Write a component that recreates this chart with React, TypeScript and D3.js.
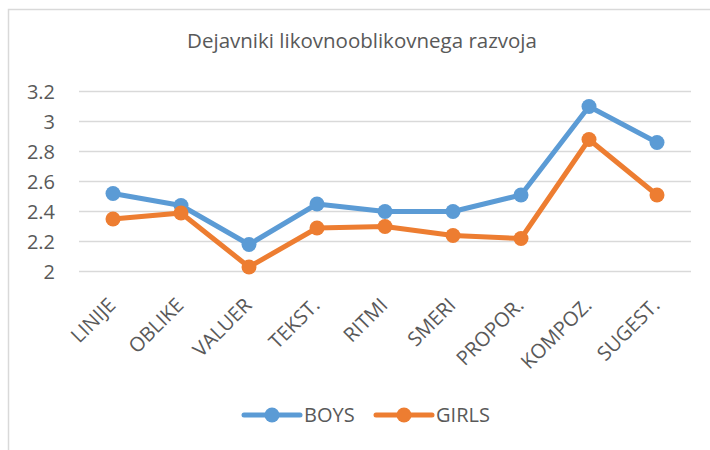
import React, { useEffect, useRef } from 'react';
import * as d3 from 'd3';

const title = 'Dejavniki likovnooblikovnega razvoja';
const categories = ['LINIJE', 'OBLIKE', 'VALUER', 'TEKST.', 'RITMI', 'SMERI', 'PROPOR.', 'KOMPOZ.', 'SUGEST.'];
const boys = [2.52, 2.44, 2.18, 2.45, 2.40, 2.40, 2.51, 3.10, 2.86];
const girls = [2.35, 2.39, 2.03, 2.29, 2.30, 2.24, 2.22, 2.88, 2.51];
const yTicks = [2, 2.2, 2.4, 2.6, 2.8, 3, 3.2];
const seriesNames = ['BOYS', 'GIRLS'];
const colors = ['#5b9bd5', '#ed7d31'];

function App() {
  const svgRef = useRef<SVGSVGElement>(null);

  useEffect(() => {
    const width = 710;
    const height = 450;
    const plot = { left: 79, right: 691, top: 91.5, bottom: 271.5 };
    const font = '"Open Sans", "Noto Sans", sans-serif';

    const svg = d3.select(svgRef.current);
    svg.selectAll('*').remove();
    svg.attr('width', width).attr('height', height);

    // chart frame (only left and top edges visible)
    svg.append('rect').attr('x', 0).attr('y', 0).attr('width', width).attr('height', height).attr('fill', '#fff');
    svg.append('path')
      .attr('d', `M8.5,${height} V9.5 H${width}`)
      .attr('fill', 'none')
      .attr('stroke', '#d9d9d9')
      .attr('stroke-width', 1.5);

    svg.append('text')
      .attr('x', 362)
      .attr('y', 48)
      .attr('text-anchor', 'middle')
      .attr('font-family', font)
      .attr('font-size', 20.5)
      .attr('fill', '#595959')
      .text(title);

    const x = d3.scaleBand().domain(categories).range([plot.left, plot.right]);
    const y = d3.scaleLinear().domain([2, 3.2]).range([plot.bottom, plot.top]);
    const cx = (c: string) => (x(c) as number) + x.bandwidth() / 2;

    // gridlines
    svg.append('g')
      .selectAll('line')
      .data(yTicks)
      .enter().append('line')
      .attr('x1', plot.left)
      .attr('x2', plot.right)
      .attr('y1', d => y(d))
      .attr('y2', d => y(d))
      .attr('stroke', '#d9d9d9')
      .attr('stroke-width', 1.5);

    // y labels
    svg.append('g')
      .selectAll('text')
      .data(yTicks)
      .enter().append('text')
      .attr('x', 55)
      .attr('y', d => y(d))
      .attr('dy', '0.35em')
      .attr('text-anchor', 'end')
      .attr('font-family', font)
      .attr('font-size', 20)
      .attr('fill', '#595959')
      .text(d => String(d));

    // x labels
    svg.append('g')
      .selectAll('text')
      .data(categories)
      .enter().append('text')
      .attr('transform', d => `translate(${cx(d) - 1},${plot.bottom + 30}) rotate(-45)`)
      .attr('text-anchor', 'end')
      .attr('dy', '0.35em')
      .attr('font-family', font)
      .attr('font-size', 20)
      .attr('fill', '#595959')
      .text(d => d);

    const line = d3.line<number>()
      .x((d, i) => cx(categories[i]))
      .y(d => y(d));

    [boys, girls].forEach((vals, k) => {
      const g = svg.append('g');
      g.append('path')
        .attr('d', line(vals))
        .attr('fill', 'none')
        .attr('stroke', colors[k])
        .attr('stroke-width', 5)
        .attr('stroke-linejoin', 'round')
        .attr('stroke-linecap', 'round');
      g.selectAll('circle')
        .data(vals)
        .enter().append('circle')
        .attr('cx', (d, i) => cx(categories[i]))
        .attr('cy', d => y(d))
        .attr('r', 7.5)
        .attr('fill', colors[k]);
    });

    // legend
    const legendX = [244, 376];
    seriesNames.forEach((name, k) => {
      const g = svg.append('g').attr('transform', `translate(${legendX[k]},415)`);
      g.append('line')
        .attr('x1', 0).attr('x2', 56)
        .attr('y1', 0).attr('y2', 0)
        .attr('stroke', colors[k])
        .attr('stroke-width', 5)
        .attr('stroke-linecap', 'round');
      g.append('circle').attr('cx', 28).attr('cy', 0).attr('r', 7.5).attr('fill', colors[k]);
      g.append('text')
        .attr('x', 60)
        .attr('y', 0)
        .attr('dy', '0.35em')
        .attr('font-family', font)
        .attr('font-size', 20)
        .attr('fill', '#595959')
        .text(name);
    });
  }, []);

  return (
    <div style={{ position: 'absolute', left: 0, top: 0 }}>
      <svg ref={svgRef} style={{ display: 'block' }}></svg>
    </div>
  );
}

export default App;
